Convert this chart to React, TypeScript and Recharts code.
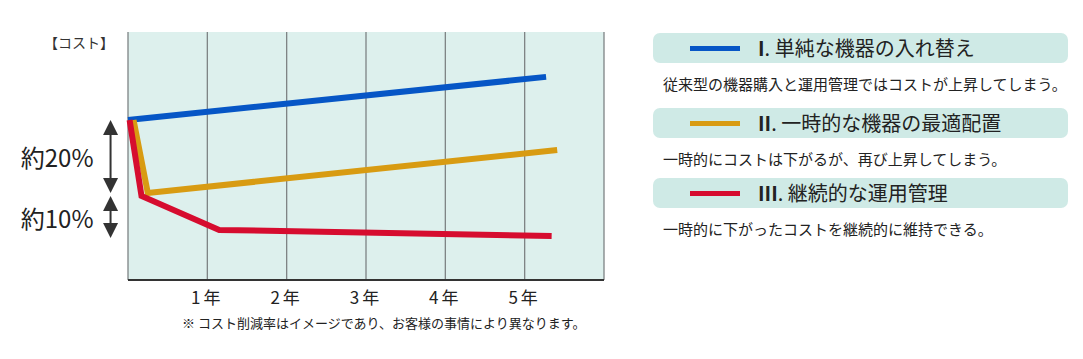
import React from 'react';
import { LineChart, Line, XAxis, YAxis, CartesianGrid, ReferenceLine, Legend } from 'recharts';

const FONT = '"Noto Sans CJK JP", "Noto Sans", sans-serif';

const yearTicks = [1, 2, 3, 4, 5];
const seriesNumerals = ['I', 'II', 'III'];
const seriesNames = ['単純な機器の入れ替え', '一時的な機器の最適配置', '継続的な運用管理'];
const seriesNotes = [
  '従来型の機器購入と運用管理ではコストが上昇してしまう。',
  '一時的にコストは下がるが、再び上昇してしまう。',
  '一時的に下がったコストを継続的に維持できる。',
];
const seriesColors = ['#0656c6', '#d89b12', '#d60c2f'];

const replaceData = [
  { year: 0, cost: 64.5 },
  { year: 5.27, cost: 81.9 },
];
const optimizeData = [
  { year: 0.07, cost: 64.5 },
  { year: 0.25, cost: 35.1 },
  { year: 5.41, cost: 52.4 },
];
const manageData = [
  { year: 0.02, cost: 64.5 },
  { year: 0.17, cost: 33.9 },
  { year: 1.15, cost: 20.2 },
  { year: 5.34, cost: 17.7 },
];

const reductionMarks = [
  { label: '約20%', from: 64.5, to: 35.1 },
  { label: '約10%', from: 33.9, to: 16.9 },
];

const ARROW_X = -0.22;

const makeArrow = (label: string) => (props: any) => {
  const { x1, y1, y2 } = props;
  const x = x1;
  const top = Math.min(y1, y2);
  const bot = Math.max(y1, y2);
  const hw = 7.5;
  const hh = 15;
  return (
    <g>
      <line x1={x} y1={top + hh - 1} x2={x} y2={bot - hh + 1} stroke="#333" strokeWidth={2} />
      <polygon points={`${x},${top} ${x - hw},${top + hh} ${x + hw},${top + hh}`} fill="#333" />
      <polygon points={`${x},${bot} ${x - hw},${bot - hh} ${x + hw},${bot - hh}`} fill="#333" />
      <text
        x={x - 17}
        y={(top + bot) / 2}
        textAnchor="end"
        dominantBaseline="central"
        fontSize={24}
        fill="#222"
        fontFamily={FONT}
      >
        {label}
      </text>
    </g>
  );
};

const LegendContent = (props: any) => {
  const payload = props.payload || [];
  const boxTops = [0, 75, 145];
  return (
    <div style={{ position: 'relative', width: 415, height: 220, fontFamily: FONT }}>
      {seriesNames.map((name, i) => {
        const entry = payload.find((p: any) => p.value === name);
        const color = entry ? entry.color : seriesColors[i];
        return (
          <React.Fragment key={i}>
            <div
              style={{
                position: 'absolute',
                left: 0,
                top: boxTops[i],
                width: 415,
                height: 30,
                borderRadius: 7,
                background: '#cfeae6',
              }}
            >
              <div
                style={{
                  position: 'absolute',
                  left: 37,
                  top: 13,
                  width: 50,
                  height: 5,
                  background: color,
                }}
              />
              <div
                style={{
                  position: 'absolute',
                  left: 105,
                  top: 0,
                  height: 30,
                  lineHeight: '30px',
                  fontSize: 20,
                  color: '#222',
                  whiteSpace: 'nowrap',
                }}
              >
                <span style={{ fontWeight: 700 }}>{seriesNumerals[i]}</span>
                {'. ' + name}
              </div>
            </div>
            <div
              style={{
                position: 'absolute',
                left: 10,
                top: boxTops[i] + 40,
                lineHeight: '22px',
                fontSize: 15,
                color: '#222',
                whiteSpace: 'nowrap',
              }}
            >
              {seriesNotes[i]}
            </div>
          </React.Fragment>
        );
      })}
    </div>
  );
};

export default function App() {
  return (
    <div
      style={{
        position: 'absolute',
        left: 0,
        top: 0,
        width: 1083,
        height: 359,
        background: '#fff',
        fontFamily: FONT,
      }}
    >
      <LineChart
        width={1083}
        height={359}
        margin={{ top: 32, right: 479, bottom: 49, left: 128 }}
      >
        <CartesianGrid
          fill="#ddf0ed"
          horizontal={false}
          stroke="#7d8384"
          strokeWidth={1.3}
          fillOpacity={1}
        />
        <XAxis
          type="number"
          dataKey="year"
          domain={[0, 6]}
          ticks={yearTicks}
          height={30}
          allowDuplicatedCategory={false}
          tickFormatter={(v: number) => `${v}年`}
          tickLine={false}
          tickSize={6}
          tickMargin={6}
          axisLine={{ stroke: '#333', strokeWidth: 2 }}
          tick={{ fontSize: 17, fill: '#222', fontFamily: FONT, letterSpacing: 3 }}
        />
        <YAxis
          type="number"
          dataKey="cost"
          domain={[0, 100]}
          width={0}
          tick={false}
          tickLine={false}
          axisLine={{ stroke: '#333', strokeWidth: 2 }}
        />
        {reductionMarks.map((m, i) => (
          <ReferenceLine
            key={i}
            segment={[
              { x: ARROW_X, y: m.from },
              { x: ARROW_X, y: m.to },
            ]}
            ifOverflow="visible"
            shape={makeArrow(m.label)}
          />
        ))}
        <Line
          data={replaceData}
          dataKey="cost"
          name={seriesNames[0]}
          stroke={seriesColors[0]}
          strokeWidth={6}
          dot={false}
          type="linear"
          isAnimationActive={false}
        />
        <Line
          data={optimizeData}
          dataKey="cost"
          name={seriesNames[1]}
          stroke={seriesColors[1]}
          strokeWidth={6}
          dot={false}
          type="linear"
          strokeLinejoin="miter"
          isAnimationActive={false}
        />
        <Line
          data={manageData}
          dataKey="cost"
          name={seriesNames[2]}
          stroke={seriesColors[2]}
          strokeWidth={6}
          dot={false}
          type="linear"
          strokeLinejoin="miter"
          isAnimationActive={false}
        />
        <Legend
          layout="vertical"
          align="center"
          verticalAlign="middle"
          wrapperStyle={{ left: 653, top: 33, width: 415, height: 220 }}
          content={LegendContent}
        />
      </LineChart>
      <div
        style={{
          position: 'absolute',
          left: 44,
          top: 30,
          fontSize: 14,
          color: '#333',
          lineHeight: '24px',
          whiteSpace: 'nowrap',
        }}
      >
        【コスト】
      </div>
      <div
        style={{
          position: 'absolute',
          left: 182,
          top: 313,
          width: 400,
          textAlign: 'center',
          fontSize: 13,
          color: '#222',
          lineHeight: '20px',
          whiteSpace: 'nowrap',
        }}
      >
        ※ コスト削減率はイメージであり、お客様の事情により異なります。
      </div>
    </div>
  );
}
